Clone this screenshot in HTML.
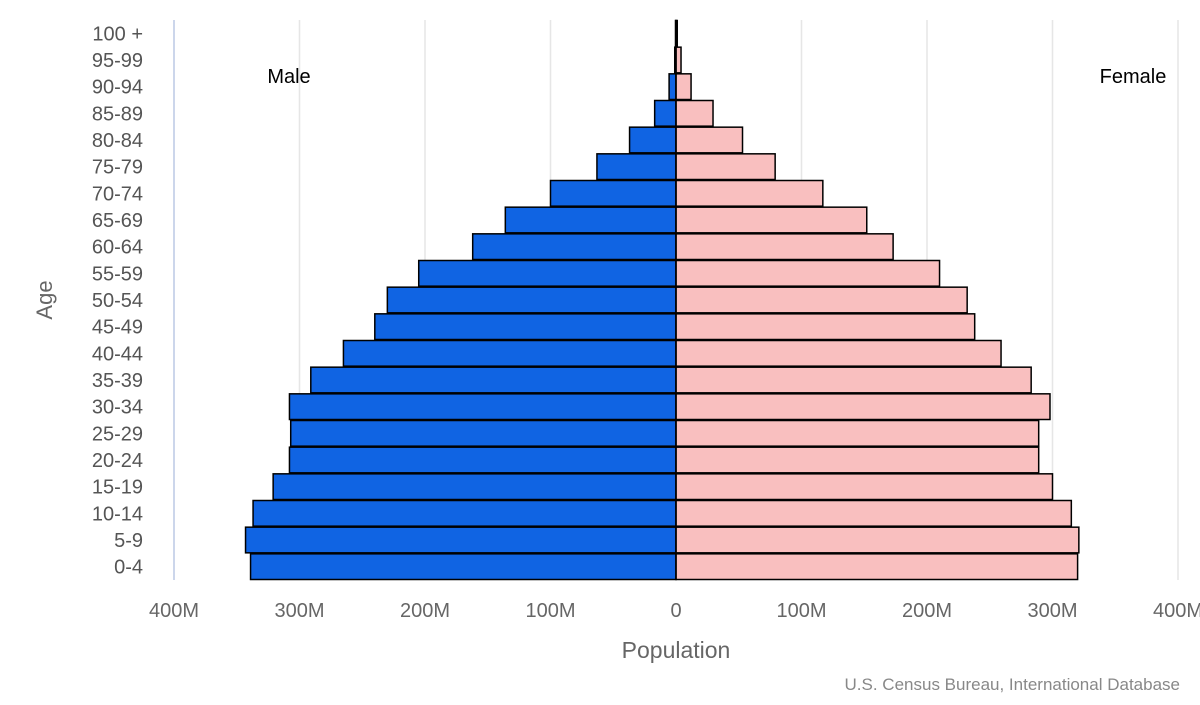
<!DOCTYPE html>
<html><head><meta charset="utf-8"><style>
body{margin:0;background:#fff;width:1200px;height:700px;overflow:hidden;font-family:"Liberation Sans","DejaVu Sans",sans-serif}
</style></head><body>
<svg id="chart" width="1200" height="700" xmlns="http://www.w3.org/2000/svg">
<g id="grid"></g>
<g id="bars"></g>
<g id="ylabels"></g>
<g id="xlabels"></g>
<text x="676" y="658" text-anchor="middle" font-size="23" fill="#666">Population</text>
<text transform="translate(52,300) rotate(-90)" text-anchor="middle" font-size="22" fill="#666">Age</text>
<text x="289" y="83" text-anchor="middle" font-size="20" fill="#000">Male</text>
<text x="1133" y="83" text-anchor="middle" font-size="20" fill="#000">Female</text>
<text x="1180" y="690" text-anchor="end" font-size="17" fill="#888">U.S. Census Bureau, International Database</text>
</svg>
<script>
const categories=["0-4","5-9","10-14","15-19","20-24","25-29","30-34","35-39","40-44","45-49","50-54","55-59","60-64","65-69","70-74","75-79","80-84","85-89","90-94","95-99","100 +"];
const maleValues=[339,343,337,321,308,307,308,291,265,240,230,205,162,136,100,63,37,17,5.5,1,0.4];
const femaleValues=[320,321,315,300,289,289,298,283,259,238,232,210,173,152,117,79,53,29.5,12,4,1];
const xTicks=[-400,-300,-200,-100,0,100,200,300,400];
const xTickLabels=["400M","300M","200M","100M","0","100M","200M","300M","400M"];
const NS="http://www.w3.org/2000/svg";
const cx=676,scale=125.5/100,plotTop=20,plotBottom=580;
const band=(plotBottom-plotTop)/categories.length;
const x=v=>cx+v*scale;
const yTop=i=>plotBottom-(i+1)*band;
function mk(t,a,p){const e=document.createElementNS(NS,t);for(const k in a)e.setAttribute(k,a[k]);p.appendChild(e);return e;}
const grid=document.getElementById('grid');
xTicks.forEach((t,i)=>{
 const l=mk('line',{x1:x(t),x2:x(t),y1:plotTop,y2:plotBottom,stroke:t===-400?'#ccd6eb':'#e6e6e6','stroke-width':t===-400?2:1.5},grid);
 
 
 const tx=mk('text',{x:x(t),y:617,'text-anchor':'middle','font-size':20,fill:'#666'},document.getElementById('xlabels'));
 tx.textContent=xTickLabels[i];
 
 
});
const bars=document.getElementById('bars');
categories.forEach((c,i)=>{
 const y0=yTop(i)+0.5,h=band-1;
 const m=mk('rect',{x:x(-maleValues[i]),y:y0,width:maleValues[i]*scale,height:h,fill:'#1064e3',stroke:'#000','stroke-width':1.5},bars);
 
 
 const f=mk('rect',{x:cx,y:y0,width:femaleValues[i]*scale,height:h,fill:'#f9bfbf',stroke:'#000','stroke-width':1.5},bars);
 
 
 const t=mk('text',{x:143,y:yTop(i)+band/2+7,'text-anchor':'end','font-size':20,fill:'#555'},document.getElementById('ylabels'));
 t.textContent=c;
 
 
});
const zl=mk('line',{x1:cx,x2:cx,y1:plotTop,y2:plotBottom,stroke:'#000','stroke-width':1.5},bars);


</script>
</body></html>
